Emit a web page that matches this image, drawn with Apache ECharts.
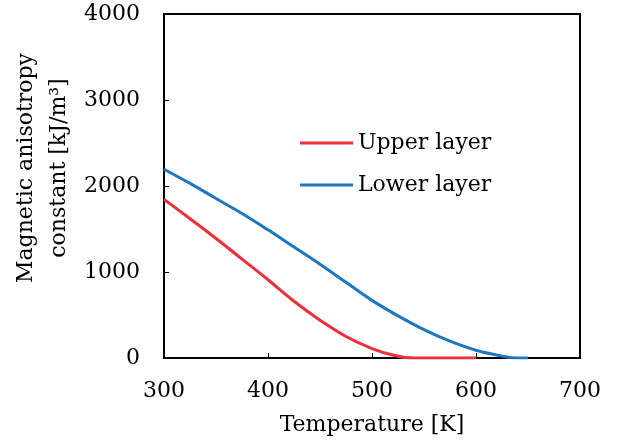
<!DOCTYPE html>
<html>
<head>
<meta charset="utf-8">
<script src="https://cdn.jsdelivr.net/npm/echarts@6/dist/echarts.min.js"></script>
<style>
  html, body { margin: 0; padding: 0; background: #fff; }
  #chart { width: 622px; height: 444px; }
</style>
</head>
<body>
<div id="chart"></div>
<script>
const seriesNames = ['Upper layer', 'Lower layer'];

const upperTemp = [300, 325, 350, 375, 400, 425, 450, 475, 500, 520, 540, 560, 580, 600];
const upperK = [1845, 1620, 1390, 1150, 910, 660, 440, 250, 110, 35, 0, 0, 0, 0];

const lowerTemp = [300, 325, 350, 375, 400, 425, 450, 475, 500, 525, 550, 575, 600, 625, 640, 650];
const lowerK = [2195, 2030, 1855, 1680, 1490, 1290, 1090, 880, 670, 490, 330, 195, 90, 22, 0, 0];

const xTicks = [300, 400, 500, 600, 700];
const yTicks = [0, 1000, 2000, 3000, 4000];

const font = 'DejaVu Serif';
const fs = 22;

function pairs(xs, ys) {
  return xs.map((x, i) => [x, ys[i]]);
}

function chartInit(node) {
  const myChart = echarts.init(node);

  myChart.setOption({
    animation: false,
    textStyle: { fontFamily: font },
    grid: {
      left: 164, right: 42, top: 14, bottom: 86,
      show: true, borderColor: '#000', borderWidth: 2
    },
    legend: {
      orient: 'vertical',
      left: 300,
      top: 132,
      padding: 0,
      itemGap: 20,
      itemWidth: 53,
      itemHeight: 3,
      icon: 'rect',
      textStyle: { fontFamily: font, fontSize: fs, color: '#000', lineHeight: 22 },
      data: seriesNames
    },
    graphic: [{
      type: 'text',
      x: 43,
      y: 168,
      rotation: Math.PI / 2,
      style: {
        text: 'Magnetic anisotropy\nconstant [kJ/m³]',
        font: fs + 'px "DejaVu Serif"',
        fill: '#000',
        align: 'center',
        verticalAlign: 'middle',
        lineHeight: 33
      }
    }],
    xAxis: {
      type: 'value',
      min: xTicks[0],
      max: xTicks[xTicks.length - 1],
      interval: 100,
      name: 'Temperature [K]',
      nameLocation: 'middle',
      nameGap: 56,
      nameTextStyle: { fontFamily: font, fontSize: fs, color: '#000' },
      axisLine: { lineStyle: { color: '#000', width: 2 } },
      axisTick: { inside: true, length: 5, lineStyle: { color: '#000' } },
      axisLabel: { fontFamily: font, fontSize: fs, color: '#000', margin: 22 },
      splitLine: { show: false }
    },
    yAxis: {
      type: 'value',
      min: yTicks[0],
      max: yTicks[yTicks.length - 1],
      interval: 1000,
      axisLine: { show: true, lineStyle: { color: '#000', width: 2 } },
      axisTick: { show: true, inside: true, length: 5, lineStyle: { color: '#000' } },
      axisLabel: {
        fontFamily: font, fontSize: fs, color: '#000', margin: 24,
        formatter: v => String(v)
      },
      splitLine: { show: false }
    },
    series: [
      {
        name: seriesNames[0],
        type: 'line',
        smooth: 0.4,
        showSymbol: false,
        color: '#EE2F37',
        lineStyle: { width: 3 },
        data: pairs(upperTemp, upperK)
      },
      {
        name: seriesNames[1],
        type: 'line',
        smooth: 0.4,
        showSymbol: false,
        color: '#1F77C0',
        lineStyle: { width: 3 },
        data: pairs(lowerTemp, lowerK)
      }
    ]
  });
}

chartInit(document.getElementById('chart'));
</script>
</body>
</html>
